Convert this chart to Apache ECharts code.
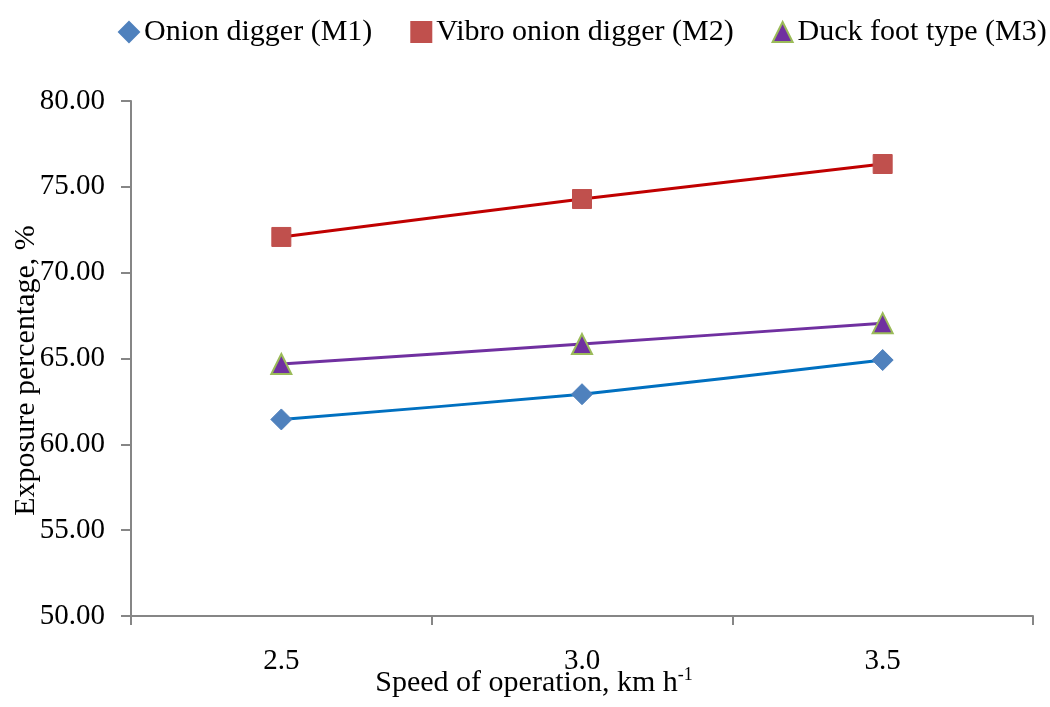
<!DOCTYPE html>
<html>
<head>
<meta charset="utf-8">
<script src="https://cdn.jsdelivr.net/npm/echarts@6/dist/echarts.min.js"></script>
<style>
  html, body { margin: 0; padding: 0; background: #fff; }
  #main { width: 1050px; height: 707px; }
</style>
</head>
<body>
<div id="main"></div>
<script>
let speeds = ['2.5', '3.0', '3.5'];
let m1 = [61.45, 62.92, 64.91];
let m2 = [72.08, 74.29, 76.33];
let m3 = [64.68, 65.84, 67.06];
let names = ['Onion digger (M1)', 'Vibro onion digger (M2)', 'Duck foot type (M3)'];

let font = 'Liberation Serif, Times New Roman, serif';
let chart = echarts.init(document.getElementById('main'));

let option = {
  backgroundColor: '#fff',
  animation: false,
  textStyle: { fontFamily: font, color: '#000' },
  legend: {
    top: 12,
    left: 113,
    width: 935,
    itemGap: 38,
    itemWidth: 20,
    itemHeight: 20,
    textStyle: { fontFamily: font, fontSize: 30, color: '#000' },
    data: [
      { name: names[0], icon: 'diamond' },
      { name: names[1], icon: 'rect' },
      { name: names[2], icon: 'triangle' }
    ]
  },
  grid: { left: 131, right: 17, top: 101, bottom: 91, containLabel: false, outerBoundsMode: 'none' },
  xAxis: {
    type: 'category',
    data: speeds,
    boundaryGap: true,
    axisLine: { lineStyle: { color: '#868686', width: 2 } },
    axisTick: { show: true, interval: 0, alignWithLabel: false, length: 9, lineStyle: { color: '#868686', width: 2 } },
    axisLabel: { fontSize: 29, color: '#000', fontFamily: font, margin: 31 },
    name: '{a|Speed of operation, km h}{s|-1}',
    nameLocation: 'middle',
    nameGap: 50,
    nameMoveOverlap: false,
    nameTextStyle: {
      padding: [0, 96, 0, 0],
      rich: {
        a: { fontSize: 30, fontFamily: font, color: '#000', lineHeight: 34 },
        s: { fontSize: 18, fontFamily: font, color: '#000', verticalAlign: 'top', lineHeight: 34, padding: [0, 0, 12, 0] }
      }
    }
  },
  yAxis: {
    type: 'value',
    min: 50,
    max: 80,
    interval: 5,
    splitLine: { show: false },
    axisLine: { show: true, lineStyle: { color: '#868686', width: 2 } },
    axisTick: { show: true, length: 10, lineStyle: { color: '#868686', width: 2 } },
    axisLabel: {
      fontSize: 29, color: '#000', fontFamily: font, margin: 26,
      formatter: function (v) { return v.toFixed(2); }
    },
    name: 'Exposure percentage, %',
    nameLocation: 'middle',
    nameGap: 90,
    nameMoveOverlap: false,
    nameTextStyle: { fontSize: 30, fontFamily: font, color: '#000', padding: [0, 24, 0, 0] }
  },
  series: [
    {
      name: names[0], type: 'line', data: m1, smooth: 0.2,
      symbol: 'diamond', symbolSize: 21,
      lineStyle: { color: '#0070C0', width: 3 },
      itemStyle: { color: '#4F81BD', borderColor: '#4F81BD', borderWidth: 1 },
      color: '#4F81BD', z: 3
    },
    {
      name: names[1], type: 'line', data: m2, smooth: 0.2,
      symbol: 'rect', symbolSize: 19,
      lineStyle: { color: '#C00000', width: 3 },
      itemStyle: { color: '#C0504D', borderColor: '#C0504D', borderWidth: 1 },
      color: '#C0504D', z: 4
    },
    {
      name: names[2], type: 'line', data: m3, smooth: 0.2,
      symbol: 'triangle', symbolSize: 20,
      lineStyle: { color: '#7030A0', width: 3 },
      itemStyle: { color: '#7030A0', borderColor: '#9BBB59', borderWidth: 2 },
      color: '#7030A0', z: 5
    }
  ]
};

chart.setOption(option);
</script>
</body>
</html>
